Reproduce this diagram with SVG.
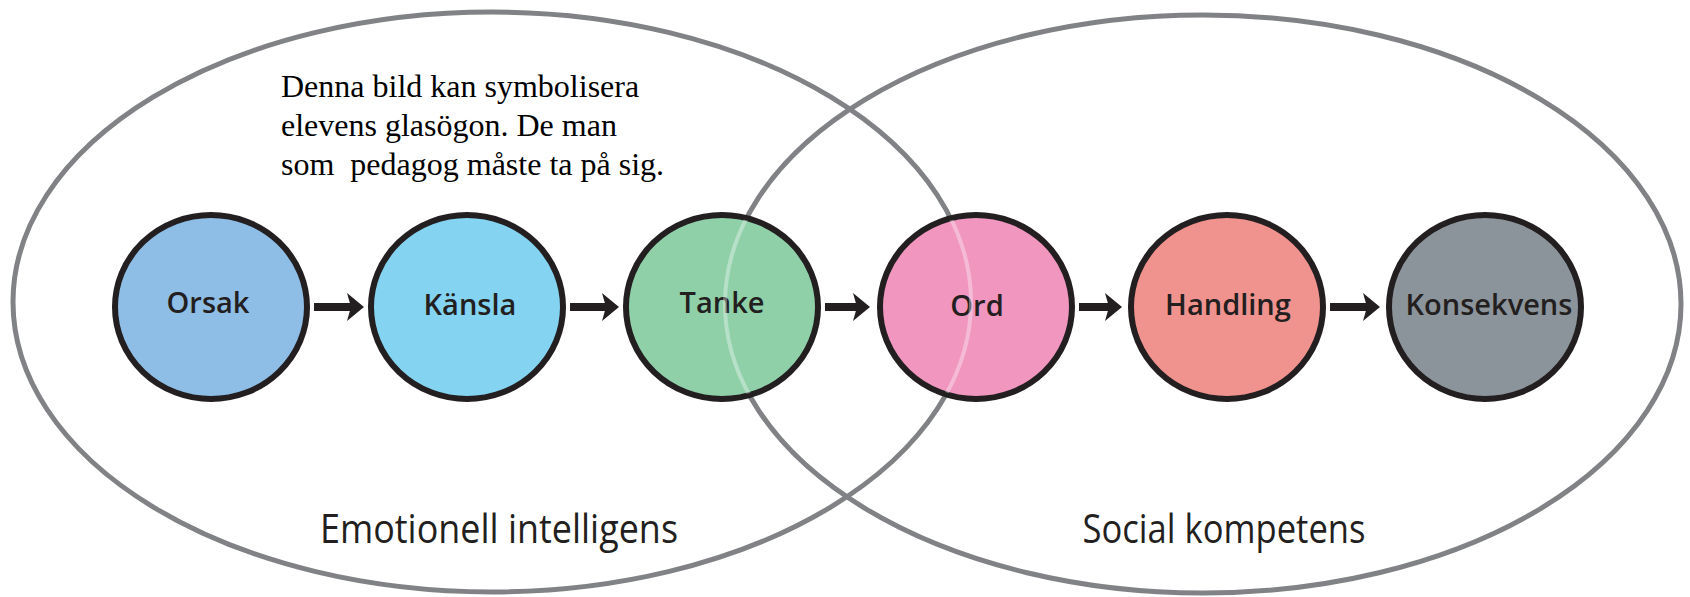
<svg xmlns="http://www.w3.org/2000/svg" width="1690" height="597" viewBox="0 0 1690 597">
  <style>
    .big { fill: none; stroke: #808285; stroke-width: 5; }
    .glow { fill: none; stroke: #ffffff; stroke-opacity: 0.35; stroke-width: 4; }
    .node { stroke: #231f20; stroke-width: 6; }
    .lbl { font-family: "Open Sans", "Liberation Sans", sans-serif; font-size: 29px; font-weight: 600; fill: #231f20; text-anchor: middle; }
    .area { font-family: "Open Sans", "Liberation Sans", sans-serif; font-size: 40px; fill: #231f20; text-anchor: middle; }
    .note { font-family: "Liberation Serif", "Times New Roman", serif; font-size: 32px; fill: #000000; white-space: pre; }
    .conn { stroke: #231f20; stroke-width: 8; fill: none; marker-end: url(#head); }
  </style>
  <defs>
    <marker id="head" markerUnits="userSpaceOnUse" viewBox="0 0 18 30" markerWidth="18" markerHeight="30" refX="10" refY="15" orient="auto">
      <path d="M1,1 L18,15 L1,29 L5,15 Z" fill="#231f20"/>
    </marker>
    <clipPath id="inside">
      <ellipse cx="722" cy="307" rx="94" ry="90"/>
      <ellipse cx="976" cy="307" rx="94" ry="90"/>
    </clipPath>
  </defs>
  <rect width="1690" height="597" fill="#ffffff"/>

  <g id="areas">
    <ellipse class="big" cx="492" cy="302" rx="479" ry="290"/>
    <ellipse class="big" cx="1203" cy="304" rx="478" ry="289"/>
    <text class="area" x="499" y="543" textLength="358" lengthAdjust="spacingAndGlyphs">Emotionell intelligens</text>
    <text class="area" x="1224" y="543" textLength="283" lengthAdjust="spacingAndGlyphs">Social kompetens</text>
  </g>

  <g id="note">
    <text class="note" x="281" y="97">Denna bild kan symbolisera</text>
    <text class="note" x="281" y="136">elevens glasögon. De man</text>
    <text class="note" x="281" y="175">som  pedagog måste ta på sig.</text>
  </g>

  <g id="connectors">
    <line class="conn" x1="314" y1="307" x2="356" y2="307"/>
    <line class="conn" x1="570" y1="307" x2="611" y2="307"/>
    <line class="conn" x1="825" y1="307" x2="862" y2="307"/>
    <line class="conn" x1="1079" y1="307" x2="1114" y2="307"/>
    <line class="conn" x1="1330" y1="307" x2="1372" y2="307"/>
  </g>

  <g id="orsak">
    <ellipse class="node" cx="211" cy="307" rx="96" ry="92" fill="#8ebde5"/>
    <text class="lbl" x="208" y="313">Orsak</text>
  </g>
  <g id="kansla">
    <ellipse class="node" cx="467" cy="307" rx="96" ry="92" fill="#84d3f0"/>
    <text class="lbl" x="470" y="315">Känsla</text>
  </g>
  <g id="tanke">
    <ellipse class="node" cx="722" cy="307" rx="96" ry="92" fill="#8fd0a9"/>
    <text class="lbl" x="722" y="313">Tanke</text>
  </g>
  <g id="ord">
    <ellipse class="node" cx="976" cy="307" rx="96" ry="92" fill="#f096bf"/>
    <text class="lbl" x="977" y="316">Ord</text>
  </g>
  <g id="handling">
    <ellipse class="node" cx="1227" cy="307" rx="96" ry="92" fill="#f0928e"/>
    <text class="lbl" x="1228" y="315">Handling</text>
  </g>
  <g id="konsekvens">
    <ellipse class="node" cx="1485" cy="307" rx="96" ry="92" fill="#8c949b"/>
    <text class="lbl" x="1489" y="315">Konsekvens</text>
  </g>

  <g id="overlap-lines" clip-path="url(#inside)">
    <ellipse class="glow" cx="492" cy="302" rx="479" ry="290"/>
    <ellipse class="glow" cx="1203" cy="304" rx="478" ry="289"/>
  </g>
</svg>
